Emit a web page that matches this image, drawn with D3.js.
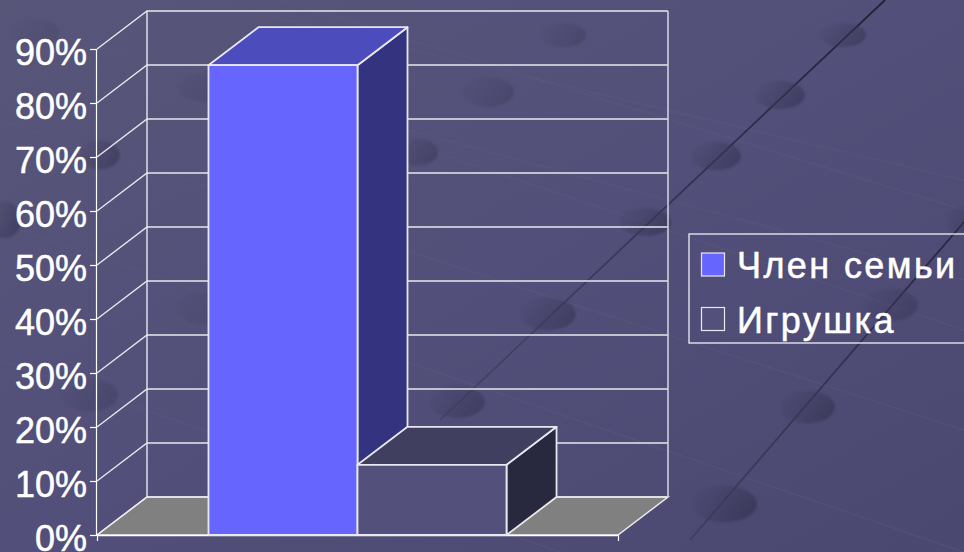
<!DOCTYPE html>
<html><head><meta charset="utf-8">
<script src="https://cdn.jsdelivr.net/npm/d3@7"></script>
<style>html,body{margin:0;padding:0;background:#53517b;overflow:hidden}svg{display:block}text{font-family:"Liberation Sans",Arial,sans-serif;fill:#fff}</style>
</head><body><svg id="c" width="964" height="552"></svg>
<script>
// ---- data ----
const seriesNames = ["Член семьи", "Игрушка"];
const seriesValues = [87, 13];
const tickValues = [0,10,20,30,40,50,60,70,80,90];
const tickLabels = ["0%","10%","20%","30%","40%","50%","60%","70%","80%","90%"];
const seriesFront = ["#6666ff", "#53517b"];
const seriesTop = ["#4c4cbd", "#403f5f"];
const seriesSide = ["#333380", "#28283f"];
// background decoration: cx, cy, rx, ry, strength
const bgDots = [[35,32,24,13,.2],[208,87,30,15,.3],[488,92,26,15,.35],[563,35,23,12,.35],[843,35,23,12,.6],[780,95,25,14,.65],[716,156,25,14,.65],[645,222,26,14,.7],[418,152,20,13,.5],[548,314,28,16,.6],[457,402,28,16,.6],[808,407,27,16,.7],[725,504,32,18,.75],[205,308,28,16,.3],[890,305,28,16,.5],[90,395,28,16,.35],[100,155,20,14,.6],[5,220,16,18,.6],[960,220,14,12,.5]];
const bgDark = [[[885,0],[440,420]],[[964,222],[690,540]]];
const bgLight = [[[0,20],[964,280]],[[200,0],[964,180]],[[0,120],[964,430]],[[280,0],[964,210]],[[0,360],[560,552]],[[400,140],[964,330]],[[20,230],[964,552]]];

const svg = d3.select("#c");
const defs = svg.append("defs");
const bg = defs.append("linearGradient").attr("id","bg").attr("x1",0).attr("y1",0).attr("x2",1).attr("y2",1);
bg.append("stop").attr("offset",0).attr("stop-color","#575578");
bg.append("stop").attr("offset",.5).attr("stop-color","#52507a");
bg.append("stop").attr("offset",1).attr("stop-color","#4a4870");
const dg = defs.append("linearGradient").attr("id","dot").attr("x1",0).attr("y1",0).attr("x2",1).attr("y2",.4);
dg.append("stop").attr("offset",0).attr("stop-color","#3f3d60").attr("stop-opacity",.1);
dg.append("stop").attr("offset",1).attr("stop-color","#383656").attr("stop-opacity",1);
const blur = defs.append("filter").attr("id","soft");
blur.append("feGaussianBlur").attr("stdDeviation",.8);
const lg0 = defs.append("linearGradient").attr("id","fade").attr("gradientUnits","userSpaceOnUse")
  .attr("x1",964).attr("y1",0).attr("x2",420).attr("y2",500);
lg0.append("stop").attr("offset",0).attr("stop-color","#1c1c32").attr("stop-opacity",1);
lg0.append("stop").attr("offset",1).attr("stop-color","#2a2a42").attr("stop-opacity",.2);
svg.append("rect").attr("width",964).attr("height",552).attr("fill","url(#bg)");

const line = d3.line();
svg.append("g").selectAll("path").data(bgLight).join("path").attr("d",line)
  .attr("stroke","#5f5d85").attr("stroke-width",1.5).attr("fill","none").attr("opacity",.3);
svg.append("g").selectAll("path").data(bgDark).join("path").attr("d",line)
  .attr("stroke","url(#fade)").attr("stroke-width",1.8).attr("fill","none");
svg.append("g").selectAll("ellipse").data(bgDots).join("ellipse")
  .attr("cx",d=>d[0]).attr("cy",d=>d[1]).attr("rx",d=>d[2]).attr("ry",d=>d[3]).attr("opacity",d=>d[4])
  .attr("fill","url(#dot)").attr("filter","url(#soft)");

// ---- scales ----
const depthX = 50, depthY = -38;
const y = d3.scaleLinear().domain([0,90]).range([535,49]);
const x = d3.scaleBand().domain(seriesNames).range([97,618]).paddingInner(0).paddingOuter(.748);
const stroke = "#e8e8ee";
const plotL = x.range()[0], plotR = x.range()[1];
const pts = a => a.map(p=>p.join(",")).join(" ");

// walls / floor
svg.append("polygon").attr("points",pts([[plotL,y(0)],[plotR,y(0)],[plotR+depthX,y(0)+depthY],[plotL+depthX,y(0)+depthY]]))
  .attr("fill","#808080").attr("stroke",stroke).attr("stroke-width",1.5);
const grid = svg.append("g");
grid.selectAll("path.g").data(tickValues).join("path").attr("class","g")
  .attr("d",v=>line([[plotL,y(v)],[plotL+depthX,y(v)+depthY],[plotR+depthX,y(v)+depthY]]))
  .attr("fill","none").attr("stroke",stroke).attr("stroke-width",1.4);
grid.append("path").attr("d",line([[plotL+depthX,y(0)+depthY],[plotL+depthX,y(90)+depthY]])).attr("stroke",stroke).attr("stroke-width",1.4);
grid.append("path").attr("d",line([[plotR+depthX,y(0)+depthY],[plotR+depthX,y(90)+depthY]])).attr("stroke","#d0d0d8").attr("stroke-width",1.6);

// axes
const axisY = svg.append("g").attr("transform",`translate(${plotL-1},0)`)
  .call(d3.axisLeft(y).tickValues(tickValues).tickFormat((d,i)=>tickLabels[i]).tickSize(6).tickPadding(4));
axisY.select(".domain").attr("stroke","#fff").attr("stroke-width",1.2);
axisY.selectAll("line").attr("stroke","#fff").attr("stroke-width",1.2);
axisY.selectAll("text").attr("fill","#fff").style("font-family",'"Liberation Sans",Arial,sans-serif').style("font-size","36px")
  .attr("dy","15.5px").attr("x",-9).attr("stroke","#fff").attr("stroke-width",.5);
const axisX = svg.append("g").attr("transform",`translate(0,${y(0)})`)
  .call(d3.axisBottom(d3.scaleLinear().domain([plotL,plotR]).range([plotL,plotR])).tickValues([plotL,plotR]).tickFormat("").tickSize(6).tickSizeOuter(0));
axisX.select(".domain").attr("stroke","#fff").attr("stroke-width",1.5);
axisX.selectAll("line").attr("stroke","#fff").attr("stroke-width",1.2);

// bars: in series order, so the second bar overlaps the first bar's side
const bars = svg.append("g").selectAll("g").data(seriesNames.map((n,i)=>({n,i,v:seriesValues[i]}))).join("g")
  .attr("stroke",stroke).attr("stroke-width",1.8).attr("stroke-linejoin","round");
bars.append("polygon").attr("fill",d=>seriesSide[d.i]).attr("points",d=>{
  const r=x(d.n)+x.bandwidth();
  return pts([[r,y(0)],[r+depthX,y(0)+depthY],[r+depthX,y(d.v)+depthY],[r,y(d.v)]]);});
bars.append("polygon").attr("fill",d=>seriesTop[d.i]).attr("points",d=>{
  const l=x(d.n),r=l+x.bandwidth();
  return pts([[l,y(d.v)],[r,y(d.v)],[r+depthX,y(d.v)+depthY],[l+depthX,y(d.v)+depthY]]);});
bars.append("rect").attr("fill",d=>seriesFront[d.i]).attr("x",d=>x(d.n)).attr("y",d=>y(d.v))
  .attr("width",x.bandwidth()).attr("height",d=>y(0)-y(d.v));

// legend
svg.append("rect").attr("x",689).attr("y",234).attr("width",290).attr("height",109)
  .attr("fill","none").attr("stroke","#f0f0f4").attr("stroke-width",1.3);
const lg = svg.append("g").selectAll("g").data(seriesNames).join("g")
  .attr("transform",(d,i)=>`translate(0,${264.5+i*54.5})`);
lg.append("rect").attr("x",701.5).attr("y",-11.5).attr("width",23).attr("height",23)
  .attr("fill",(d,i)=>seriesFront[i]).attr("stroke","#e8e8ee").attr("stroke-width",1.2);
lg.append("text").attr("x",737).attr("y",13.5).style("font-size","36px").style("letter-spacing","2.4px")
  .attr("stroke","#fff").attr("stroke-width",.5).text(d=>d);
</script></body></html>
